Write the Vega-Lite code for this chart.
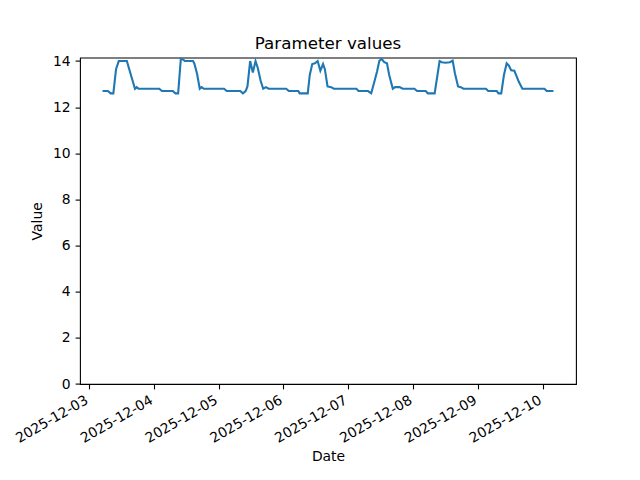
{
  "$schema": "https://vega.github.io/schema/vega-lite/v6.json",
  "autosize": {"type": "none"},
  "width": 496,
  "height": 326.4,
  "padding": {"left": 80, "top": 57.6, "right": 64, "bottom": 96},
  "background": "white",
  "title": {"text": "Parameter values", "font": "DejaVu Sans", "fontSize": 16.7, "fontWeight": "normal", "color": "black", "offset": 1, "anchor": "middle"},
  "config": {
    "view": {"stroke": "black", "strokeWidth": 1.1},
    "axis": {"grid": false, "domain": false, "tickColor": "black", "tickWidth": 1.1, "tickSize": 4.9, "labelFont": "DejaVu Sans", "labelFontSize": 13.9, "labelColor": "black", "labelPadding": 4.9, "titleFont": "DejaVu Sans", "titleFontSize": 13.9, "titleFontWeight": "normal", "titleColor": "black"}
  },
  "data": {"values": [
    {"t": "2025-12-03T05:00", "v": 12.7},
    {"t": "2025-12-03T07:00", "v": 12.7},
    {"t": "2025-12-03T08:00", "v": 12.6},
    {"t": "2025-12-03T09:00", "v": 12.6},
    {"t": "2025-12-03T10:00", "v": 13.65},
    {"t": "2025-12-03T11:00", "v": 14.0},
    {"t": "2025-12-03T14:00", "v": 14.0},
    {"t": "2025-12-03T15:00", "v": 13.6},
    {"t": "2025-12-03T15:45", "v": 13.3},
    {"t": "2025-12-03T16:15", "v": 13.1},
    {"t": "2025-12-03T17:00", "v": 12.8},
    {"t": "2025-12-03T17:40", "v": 12.87},
    {"t": "2025-12-03T18:20", "v": 12.8},
    {"t": "2025-12-04T02:00", "v": 12.8},
    {"t": "2025-12-04T03:00", "v": 12.7},
    {"t": "2025-12-04T07:00", "v": 12.7},
    {"t": "2025-12-04T08:00", "v": 12.6},
    {"t": "2025-12-04T09:00", "v": 12.6},
    {"t": "2025-12-04T10:00", "v": 14.1},
    {"t": "2025-12-04T11:00", "v": 14.05},
    {"t": "2025-12-04T11:30", "v": 14.0},
    {"t": "2025-12-04T14:30", "v": 14.0},
    {"t": "2025-12-04T15:00", "v": 13.9},
    {"t": "2025-12-04T16:00", "v": 13.45},
    {"t": "2025-12-04T17:00", "v": 12.8},
    {"t": "2025-12-04T17:40", "v": 12.87},
    {"t": "2025-12-04T18:30", "v": 12.8},
    {"t": "2025-12-05T02:00", "v": 12.8},
    {"t": "2025-12-05T03:00", "v": 12.7},
    {"t": "2025-12-05T08:00", "v": 12.7},
    {"t": "2025-12-05T09:00", "v": 12.6},
    {"t": "2025-12-05T10:00", "v": 12.7},
    {"t": "2025-12-05T10:40", "v": 12.9},
    {"t": "2025-12-05T11:40", "v": 14.0},
    {"t": "2025-12-05T12:40", "v": 13.5},
    {"t": "2025-12-05T13:40", "v": 14.0},
    {"t": "2025-12-05T14:30", "v": 13.7},
    {"t": "2025-12-05T15:30", "v": 13.17},
    {"t": "2025-12-05T16:30", "v": 12.8},
    {"t": "2025-12-05T17:30", "v": 12.87},
    {"t": "2025-12-05T18:30", "v": 12.8},
    {"t": "2025-12-06T01:00", "v": 12.8},
    {"t": "2025-12-06T02:00", "v": 12.7},
    {"t": "2025-12-06T05:30", "v": 12.7},
    {"t": "2025-12-06T06:00", "v": 12.6},
    {"t": "2025-12-06T09:00", "v": 12.6},
    {"t": "2025-12-06T09:45", "v": 13.4},
    {"t": "2025-12-06T10:40", "v": 13.87},
    {"t": "2025-12-06T11:40", "v": 13.9},
    {"t": "2025-12-06T12:40", "v": 14.0},
    {"t": "2025-12-06T13:40", "v": 13.58},
    {"t": "2025-12-06T14:40", "v": 13.87},
    {"t": "2025-12-06T15:20", "v": 13.65},
    {"t": "2025-12-06T16:20", "v": 12.9},
    {"t": "2025-12-06T17:40", "v": 12.87},
    {"t": "2025-12-06T18:40", "v": 12.8},
    {"t": "2025-12-07T03:00", "v": 12.8},
    {"t": "2025-12-07T03:50", "v": 12.7},
    {"t": "2025-12-07T07:20", "v": 12.7},
    {"t": "2025-12-07T08:30", "v": 12.6},
    {"t": "2025-12-07T09:40", "v": 13.1},
    {"t": "2025-12-07T10:40", "v": 13.55},
    {"t": "2025-12-07T11:30", "v": 14.0},
    {"t": "2025-12-07T12:20", "v": 14.1},
    {"t": "2025-12-07T13:20", "v": 13.95},
    {"t": "2025-12-07T14:20", "v": 13.9},
    {"t": "2025-12-07T15:10", "v": 13.4},
    {"t": "2025-12-07T16:30", "v": 12.8},
    {"t": "2025-12-07T17:20", "v": 12.87},
    {"t": "2025-12-07T19:00", "v": 12.87},
    {"t": "2025-12-07T20:10", "v": 12.8},
    {"t": "2025-12-08T00:30", "v": 12.8},
    {"t": "2025-12-08T01:30", "v": 12.7},
    {"t": "2025-12-08T04:40", "v": 12.7},
    {"t": "2025-12-08T05:30", "v": 12.6},
    {"t": "2025-12-08T08:00", "v": 12.6},
    {"t": "2025-12-08T09:50", "v": 14.0},
    {"t": "2025-12-08T10:40", "v": 13.95},
    {"t": "2025-12-08T12:00", "v": 13.93},
    {"t": "2025-12-08T13:40", "v": 13.95},
    {"t": "2025-12-08T14:40", "v": 14.02},
    {"t": "2025-12-08T15:30", "v": 13.47},
    {"t": "2025-12-08T16:40", "v": 12.9},
    {"t": "2025-12-08T17:40", "v": 12.87},
    {"t": "2025-12-08T18:40", "v": 12.8},
    {"t": "2025-12-09T03:00", "v": 12.8},
    {"t": "2025-12-09T03:50", "v": 12.7},
    {"t": "2025-12-09T07:00", "v": 12.7},
    {"t": "2025-12-09T07:40", "v": 12.6},
    {"t": "2025-12-09T08:40", "v": 12.6},
    {"t": "2025-12-09T09:40", "v": 13.4},
    {"t": "2025-12-09T10:40", "v": 13.9},
    {"t": "2025-12-09T11:30", "v": 13.8},
    {"t": "2025-12-09T12:20", "v": 13.6},
    {"t": "2025-12-09T13:30", "v": 13.58},
    {"t": "2025-12-09T14:20", "v": 13.35},
    {"t": "2025-12-09T15:10", "v": 13.1},
    {"t": "2025-12-09T16:30", "v": 12.8},
    {"t": "2025-12-10T00:40", "v": 12.8},
    {"t": "2025-12-10T01:30", "v": 12.7},
    {"t": "2025-12-10T04:00", "v": 12.7}
  ]},
  "mark": {"type": "line", "color": "#1f77b4", "strokeWidth": 2.1, "clip": true},
  "encoding": {
    "x": {
      "field": "t", "type": "temporal", "title": "Date",
      "scale": {"domain": [
        {"year": 2025, "month": 12, "date": 2, "hours": 20, "minutes": 39},
        {"year": 2025, "month": 12, "date": 10, "hours": 12, "minutes": 21}
      ]},
      "axis": {
        "values": [
          {"year": 2025, "month": 12, "date": 3},
          {"year": 2025, "month": 12, "date": 4},
          {"year": 2025, "month": 12, "date": 5},
          {"year": 2025, "month": 12, "date": 6},
          {"year": 2025, "month": 12, "date": 7},
          {"year": 2025, "month": 12, "date": 8},
          {"year": 2025, "month": 12, "date": 9},
          {"year": 2025, "month": 12, "date": 10}
        ],
        "format": "%Y-%m-%d", "labelAngle": -30, "labelAlign": "right", "labelBaseline": "top", "labelPadding": 4, "labelOffset": -6, "titlePadding": 4, "labelOverlap": false, "labelBound": false, "labelFlush": false
      }
    },
    "y": {
      "field": "v", "type": "quantitative", "title": "Value",
      "scale": {"domain": [0, 14.15], "nice": false, "zero": false},
      "axis": {"values": [0, 2, 4, 6, 8, 10, 12, 14], "titlePadding": 8}
    }
  }
}
